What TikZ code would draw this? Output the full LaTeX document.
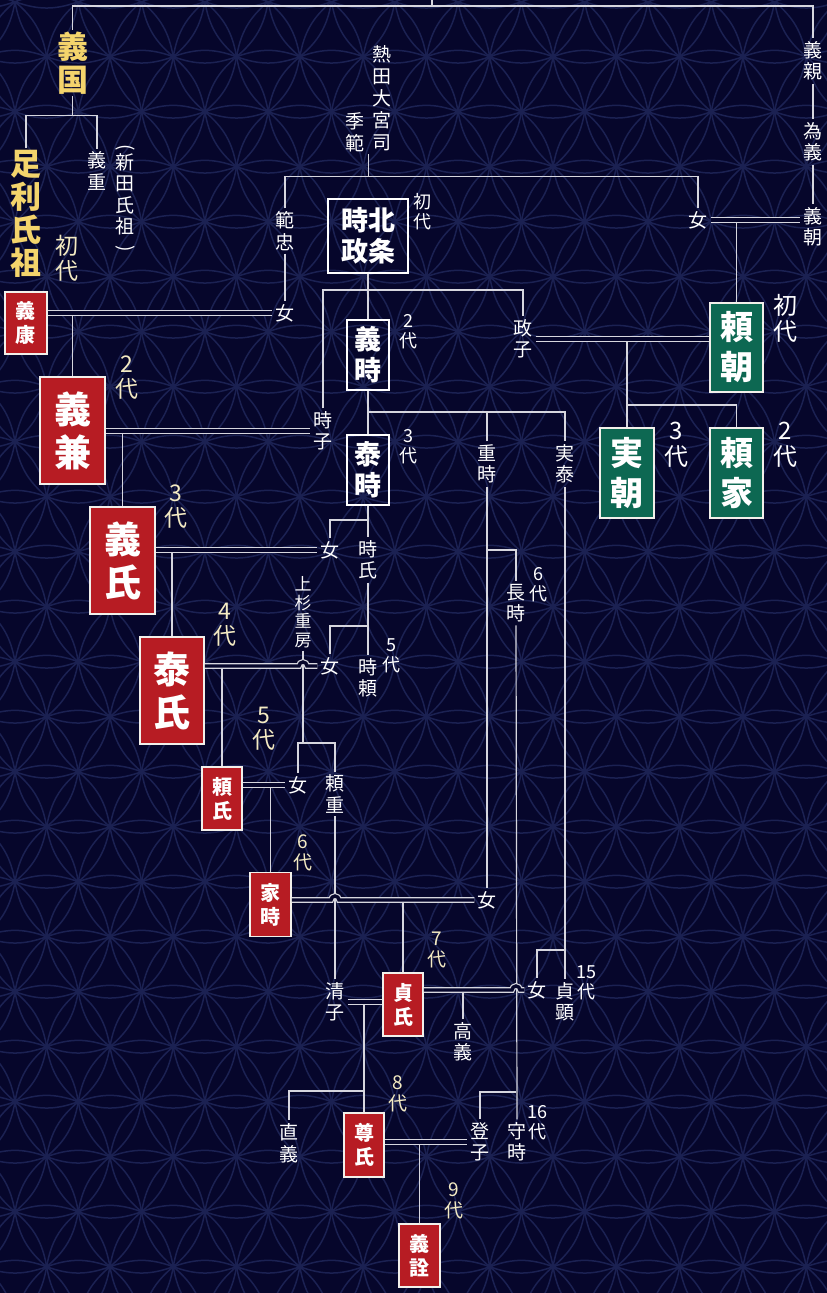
\documentclass[tikz,border=0pt]{standalone}
\usepackage{fontspec}
\usepackage{graphicx}
\newfontfamily\jp{Noto Sans CJK JP}
\usetikzlibrary{calc}
\definecolor{bgnavy}{HTML}{06062B}
\definecolor{petalblue}{HTML}{1B2152}
\definecolor{linegray}{HTML}{D6D6DE}
\definecolor{cream}{HTML}{F4EBC3}
\definecolor{goldyellow}{HTML}{F4D46C}
\definecolor{ashired}{HTML}{B71C23}
\definecolor{genjigreen}{HTML}{0D6852}
\definecolor{boxedge}{HTML}{F2F0EA}

\tikzset{
  bloodline/.style={draw=linegray, line width=1.2pt},
  marriage/.style={draw=linegray, line width=1.2pt, double=bgnavy, double distance=3.4pt},
  petal/.style={draw=petalblue, line width=1.5pt},
  person/.style={text=white, align=center, inner sep=3pt, font=\jp\fontsize{19}{21.5}\selectfont},
  founder/.style={text=goldyellow, align=center, inner sep=2pt, font=\jp\bfseries\fontsize{31}{33}\selectfont},
  genashi/.style={text=cream, align=center, inner sep=0pt, font=\jp\fontsize{23}{25}\selectfont},
  genashismall/.style={genashi, font=\jp\fontsize{19}{21}\selectfont},
  genhojo/.style={text=white, align=center, inner sep=0pt, font=\jp\fontsize{18}{20}\selectfont},
  genminamoto/.style={text=white, align=center, inner sep=0pt, font=\jp\fontsize{24}{26}\selectfont},
  ashibig/.style={fill=ashired, draw=boxedge, line width=1.5pt, text=white, align=center, inner sep=0pt,
    minimum width=65pt, minimum height=107pt, font=\jp\bfseries\fontsize{37}{43}\selectfont},
  ashismall/.style={fill=ashired, draw=boxedge, line width=1.5pt, text=white, align=center, inner sep=0pt,
    minimum width=41pt, minimum height=63pt, font=\jp\bfseries\fontsize{20}{24}\selectfont},
  hojobox/.style={draw=white, line width=1.5pt, text=white, align=center, inner sep=0pt,
    minimum width=42pt, minimum height=70pt, font=\jp\bfseries\fontsize{27}{31}\selectfont},
  genjibox/.style={fill=genjigreen, draw=boxedge, line width=1.5pt, text=white, align=center, inner sep=0pt,
    minimum width=53pt, minimum height=89pt, font=\jp\bfseries\fontsize{33}{40}\selectfont},
}

\begin{document}
\begin{tikzpicture}[x=1pt, y=-1pt]
  \useasboundingbox (0,0) rectangle (827,1293);
  \fill[bgnavy] (0,0) rectangle (827,1293);

  % background pattern
  \begin{scope}
    \clip (0,0) rectangle (827,1293);
    \foreach \j in {0,...,24}{
      \foreach \i in {-1,...,13}{
        \pgfmathsetmacro{\px}{15+63.3*\i+31.65*mod(\j,2)}
        \pgfmathsetmacro{\py}{1.7+55*\j}
        \draw[petal] (\px,\py) to[bend left=20] ++(63.3,0) to[bend left=20] (\px,\py);
        \draw[petal] (\px,\py) to[bend left=20] ++(31.65,55) to[bend left=20] (\px,\py);
        \draw[petal] (\px,\py) to[bend left=20] ++(-31.65,55) to[bend left=20] (\px,\py);
      }
    }
  \end{scope}

  % Ashikaga
  \node[founder] (yoshikuni) at (72.5,63) {義\\国};
  \node[founder] (ashikaga) at (26,214) {足\\利\\氏\\祖};
  \node[genashi] (g-ashikaga) at (67,258) {初\\代};
  \node[person] (yoshishige) at (97,171) {義\\重};
  \node[person] (nitta) at (125,198) {\rotatebox{-90}{(}\\[2pt]新\\田\\氏\\祖\\[-10pt]\rotatebox{-90}{)}};
  \node[ashismall, minimum width=42pt, minimum height=62pt] (yasu) at (26,323) {義\\康};
  \node[ashibig] (yoshikane) at (72.5,430.5) {義\\兼};
  \node[ashibig] (yoshiuji) at (122.5,560.5) {義\\氏};
  \node[ashibig, minimum width=64pt] (yasuuji) at (172,690.5) {泰\\氏};
  \node[ashismall, minimum width=40pt] (yoriuji) at (222,798.5) {頼\\氏};
  \node[ashismall, minimum height=64pt] (ietoki) at (270.5,904.5) {家\\時};
  \node[ashismall, minimum width=40pt] (sadauji) at (403,1004.5) {貞\\氏};
  \node[ashismall, minimum width=40pt, minimum height=64pt] (takauji) at (364,1145) {尊\\氏};
  \node[ashismall] (yoshiakira) at (419.5,1255.5) {義\\詮};
  \node[genashi] (g-yoshikane) at (127,378) {2\\代};
  \node[genashi] (g-yoshiuji) at (176,507) {3\\代};
  \node[genashi] (g-yasuuji) at (225,625) {4\\代};
  \node[genashi] (g-yoriuji) at (264,729) {5\\代};
  \node[genashismall] (g-ietoki) at (303,853) {6\\代};
  \node[genashismall] (g-sadauji) at (437,950) {7\\代};
  \node[genashismall] (g-takauji) at (398,1094) {8\\代};
  \node[genashismall] (g-yoshiakira) at (454,1201) {9\\代};

  % Hojo
  \node[person, font=\jp\fontsize{19}{22}\selectfont] (atsuta) at (382,98) {熱\\田\\大\\宮\\司};
  \node[person, font=\jp\fontsize{19}{22}\selectfont] (suenori) at (355,132) {季\\範};
  \node[person] (noritada) at (285,231) {範\\忠};
  \node[person] (onnaA) at (285,313) {女};
  \node[hojobox, minimum width=80pt, minimum height=74pt] (tokimasa) at (368,236) {時北\\政条};
  \node[hojobox] (yoshitoki) at (368,355) {義\\時};
  \node[hojobox] (yasutoki) at (368,470) {泰\\時};
  \node[genhojo] (g-tokimasa) at (422,212) {初\\代};
  \node[genhojo] (g-yoshitoki) at (408,332) {2\\代};
  \node[genhojo] (g-yasutoki) at (408,447) {3\\代};
  \node[person] (tokiko) at (323,431) {時\\子};
  \node[person] (masako) at (523,339) {政\\子};
  \node[person] (shigetoki) at (487,464) {重\\時};
  \node[person] (saneyasu) at (565,464) {実\\泰};
  \node[person] (onnaB) at (330,550) {女};
  \node[person] (tokiuji) at (368,560) {時\\氏};
  \node[person, font=\jp\fontsize{17}{18.5}\selectfont] (uesugi) at (303,612) {上\\杉\\重\\房};
  \node[person] (onnaC) at (330,666) {女};
  \node[person] (tokiyori) at (368,678) {時\\頼};
  \node[genhojo] (g-tokiyori) at (391,656) {5\\代};
  \node[person] (nagatoki) at (516,603) {長\\時};
  \node[genhojo] (g-nagatoki) at (538,585) {6\\代};
  \node[person] (onnaD) at (298,785) {女};
  \node[person] (yorishige) at (335,794) {頼\\重};
  \node[person] (onnaE) at (487,900) {女};
  \node[person] (kiyoko) at (335,1002) {清\\子};
  \node[person] (onnaF) at (537,990) {女};
  \node[person] (sadaaki) at (565,1002) {貞\\顕};
  \node[genhojo] (g-sadaaki) at (586,983) {15\\代};
  \node[person] (takayoshi) at (463,1042) {高\\義};
  \node[person] (tadayoshi) at (289,1143) {直\\義};
  \node[person] (toshiko) at (480,1142) {登\\子};
  \node[person] (moritoki) at (517,1142) {守\\時};
  \node[genhojo] (g-moritoki) at (537,1123) {16\\代};

  % Minamoto
  \node[person] (yoshichika) at (813,61) {義\\親};
  \node[person] (tameyoshi) at (813,142) {為\\義};
  \node[person] (yoshitomo) at (813,227) {義\\朝};
  \node[person] (onnaG) at (698,220) {女};
  \node[genjibox] (yoritomo) at (736.5,347.5) {頼\\朝};
  \node[genjibox, minimum width=54pt, minimum height=90pt] (sanetomo) at (627,473) {実\\朝};
  \node[genjibox, minimum height=90pt] (yoriie) at (736.5,473) {頼\\家};
  \node[genminamoto] (g-yoritomo) at (785,318) {初\\代};
  \node[genminamoto] (g-sanetomo) at (676,445) {3\\代};
  \node[genminamoto] (g-yoriie) at (785,445) {2\\代};

  % forks
  \coordinate (topin) at (432,0);
  \coordinate (toprail) at (432,6);
  \coordinate (kuni-fork) at ($(yoshikuni.south)+(0,19)$);
  \coordinate (suenori-b) at ($(suenori.south)!0.5!(atsuta.south)$);
  \coordinate (sue-fork) at ($(suenori-b)+(0,22)$);
  \coordinate (masa-fork) at (368,290);
  \coordinate (yt-fork) at (368,412);
  \coordinate (yst-fork) at (368,520);
  \coordinate (tu-fork) at (368,626);
  \coordinate (ue-fork) at (303,743);
  \coordinate (st-fork) at (487,550);
  \coordinate (nt-fork) at (516,1092);
  \coordinate (sy-fork) at (565,950);
  \coordinate (ku-fork) at (364,1091);
  \coordinate (rt-fork) at (627,405);

  % blood lines
  \draw[bloodline] (topin) -- (toprail);
  \draw[bloodline] (yoshikuni.north) |- (toprail) -| (yoshichika.north);
  \draw[bloodline] (yoshichika) -- (tameyoshi);
  \draw[bloodline] (tameyoshi) -- (yoshitomo);
  \draw[bloodline] (yoshikuni.south) -- (kuni-fork);
  \draw[bloodline] (ashikaga.north) |- (kuni-fork) -| (yoshishige.north);
  \draw[bloodline] (suenori-b) -- (sue-fork);
  \draw[bloodline] (noritada.north) |- (sue-fork) -| (onnaG.north);
  \draw[bloodline] (noritada) -- (onnaA);
  \draw[bloodline] (tokimasa) -- (yoshitoki);
  \draw[bloodline] (tokiko.north) |- (masa-fork) -| (masako.north);
  \draw[bloodline] (yoshitoki) -- (yasutoki);
  \draw[bloodline] (yt-fork) -| (saneyasu.north);
  \draw[bloodline] (shigetoki.north) -- (shigetoki.north |- yt-fork);
  \draw[bloodline] (yasutoki) -- (tokiuji);
  \draw[bloodline] (yst-fork) -| (onnaB.north);
  \draw[bloodline] (tokiuji) -- (tokiyori);
  \draw[bloodline] (tu-fork) -| (onnaC.north);
  \draw[bloodline] (uesugi.south) -- (ue-fork);
  \draw[bloodline] (onnaD.north) |- (ue-fork) -| (yorishige.north);
  \draw[bloodline] (yorishige) -- (kiyoko);
  \draw[bloodline] (shigetoki) -- (onnaE);
  \draw[bloodline] (st-fork) -| (nagatoki.north);
  \draw[bloodline] (nagatoki.south) -- (moritoki.north);
  \draw[bloodline] (nt-fork) -| (toshiko.north);
  \draw[bloodline] (saneyasu.south) -- (sy-fork) -- (sadaaki.north);
  \draw[bloodline] (sy-fork) -| (onnaF.north);
  \draw[bloodline] (yoshikane.north) -- (yoshikane.north |- onnaA.west);
  \draw[bloodline] (yoshiuji.north) -- (yoshiuji.north |- tokiko.west);
  \draw[bloodline] (yasuuji.north) -- (yasuuji.north |- onnaB.west);
  \draw[bloodline] (yoriuji.north) -- (yoriuji.north |- onnaC.west);
  \draw[bloodline] (ietoki.north) -- (ietoki.north |- onnaD.west);
  \draw[bloodline] (sadauji.north) -- (sadauji.north |- onnaE.west);
  \draw[bloodline] (takayoshi.north) -- (takayoshi.north |- onnaF.west);
  \draw[bloodline] (takauji.north) -- (takauji.north |- kiyoko.east);
  \draw[bloodline] (ku-fork) -| (tadayoshi.north);
  \draw[bloodline] (yoshiakira.north) -- (yoshiakira.north |- toshiko.west);
  \draw[bloodline] (yoritomo.north) -- (yoritomo.north |- onnaG.east);
  \draw[bloodline] (sanetomo.north) -- (sanetomo.north |- masako.east);
  \draw[bloodline] (rt-fork) -| (yoriie.north);

  % marriages
  \draw[marriage] (yasu.east |- onnaA.west) -- (onnaA.west);
  \draw[marriage] (yoshikane.east |- tokiko.west) -- (tokiko.west);
  \draw[marriage] (yoshiuji.east |- onnaB.west) -- (onnaB.west);
  \draw[marriage] (yasuuji.east |- onnaC.west) -- ($(uesugi.south |- onnaC.west)+(-4,0)$)
    arc[start angle=180, end angle=360, radius=4] -- (onnaC.west);
  \draw[marriage] (yoriuji.east |- onnaD.west) -- (onnaD.west);
  \draw[marriage] (ietoki.east |- onnaE.west) -- ($(yorishige.south |- onnaE.west)+(-4,0)$)
    arc[start angle=180, end angle=360, radius=4] -- (onnaE.west);
  \draw[marriage] (sadauji.east |- onnaF.west) -- ($(nagatoki.south |- onnaF.west)+(-4,0)$)
    arc[start angle=180, end angle=360, radius=4] -- (onnaF.west);
  \draw[marriage] (kiyoko.east) -- (sadauji.west |- kiyoko.east);
  \draw[marriage] (takauji.east |- toshiko.west) -- (toshiko.west);
  \draw[marriage] (onnaG.east) -- (yoshitomo.west |- onnaG.east);
  \draw[marriage] (masako.east) -- (yoritomo.west |- masako.east);
\end{tikzpicture}
\end{document}
